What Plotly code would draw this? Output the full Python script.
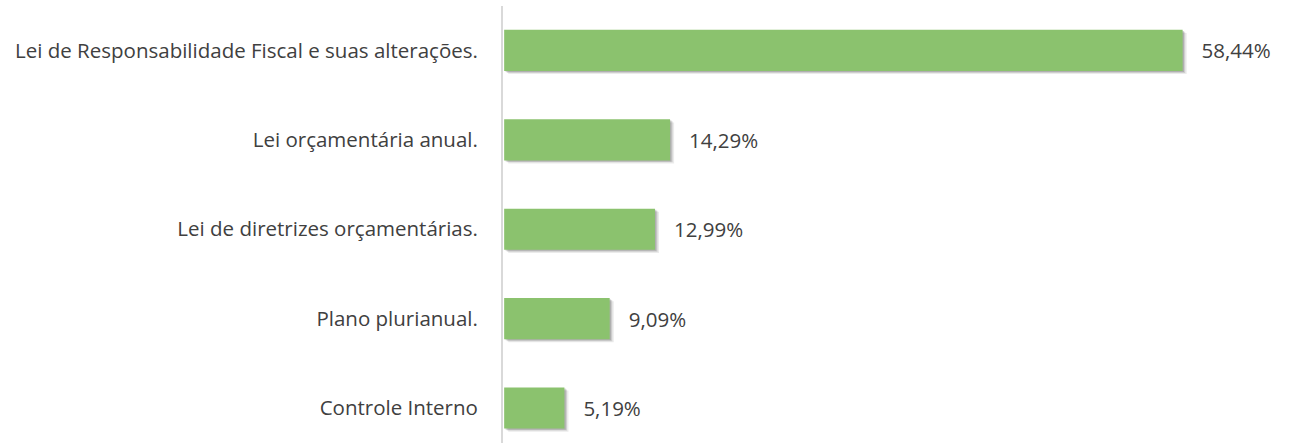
import plotly.graph_objects as go

categories = [
    "Lei de Responsabilidade Fiscal e suas alterações.",
    "Lei orçamentária anual.",
    "Lei de diretrizes orçamentárias.",
    "Plano plurianual.",
    "Controle Interno",
]
values = [58.44, 14.29, 12.99, 9.09, 5.19]
labels = [f"{v:.2f}".replace(".", ",") + "%" for v in values]

FONT = "Open Sans"
FS = 20.5
fig = go.Figure()

# soft drop shadow layers
for off, alpha in [(0.35, 0.08), (0.22, 0.12), (0.12, 0.15)]:
    fig.add_trace(go.Bar(
        y=categories, x=values, base=off, orientation="h",
        width=0.46, offset=-0.23 + off * 0.1,
        marker=dict(color=f"rgba(0,0,0,{alpha})", line=dict(width=0)),
        hoverinfo="skip", showlegend=False,
    ))

fig.add_trace(go.Bar(
    y=categories, x=values, orientation="h",
    width=0.46, offset=-0.23,
    marker=dict(color="#8BC26E", line=dict(width=0)),
    text=["   " + t for t in labels], textposition="outside",
    textfont=dict(family=FONT, size=FS, color="#404040"),
    cliponaxis=False, showlegend=False,
))

fig.update_layout(
    width=1290, height=443,
    margin=dict(l=503, r=8, t=6, b=0),
    paper_bgcolor="white", plot_bgcolor="white",
    barmode="overlay",
    font=dict(family=FONT, size=FS, color="#404040"),
    xaxis=dict(range=[-0.1, 67], visible=False, showgrid=False, zeroline=False),
    yaxis=dict(
        type="category", categoryorder="array", categoryarray=categories,
        range=[4.391, -0.497], showgrid=False, zeroline=False,
        showline=True, linecolor="#D9D9D9", linewidth=2,
        ticks="", ticklabelstandoff=19,
        tickfont=dict(family=FONT, size=FS, color="#404040"),
    ),
)

fig.write_html("out.html", config={"displayModeBar": False},
               post_script="document.body.style.margin='0';")
